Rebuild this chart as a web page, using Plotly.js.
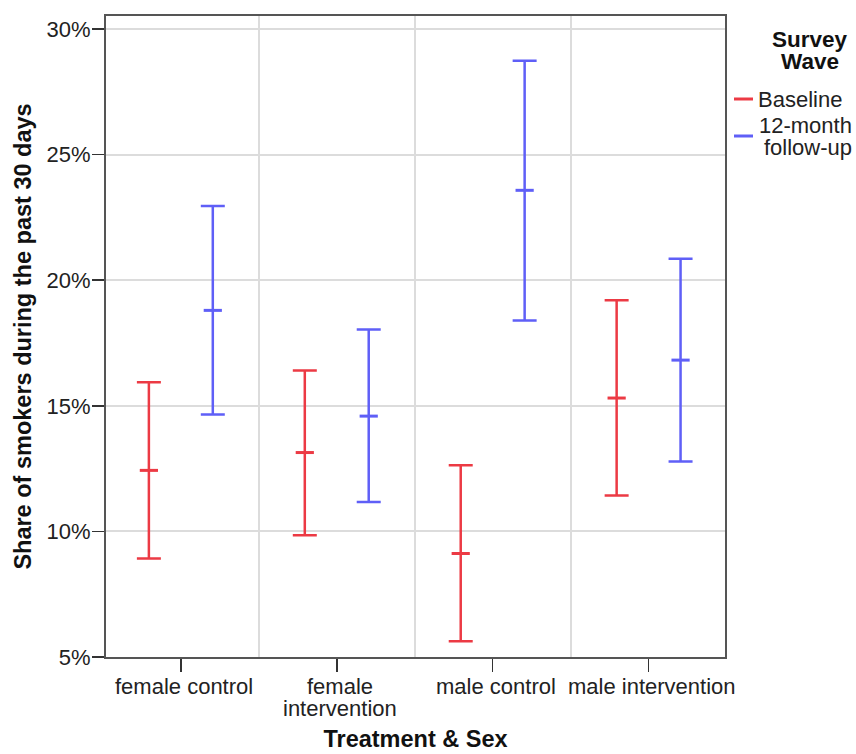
<!DOCTYPE html>
<html>
<head>
<meta charset="utf-8">
<script src="https://cdn.plot.ly/plotly-3.0.1.min.js"></script>
<style>html,body{margin:0;padding:0;background:#fff;}#chart{width:856px;height:754px;}</style>
</head>
<body>
<div id="chart"></div>
<script>
// Data (percent)
const categories = ["female control", "female\nintervention", "male control", "male intervention"];
const baselineMean = [12.43, 13.14, 9.12, 15.31];
const baselineLow  = [8.92, 9.85, 5.63, 11.43];
const baselineHigh = [15.94, 16.41, 12.63, 19.20];
const followMean = [18.80, 14.59, 23.58, 16.82];
const followLow  = [14.65, 11.17, 18.40, 12.78];
const followHigh = [22.96, 18.04, 28.74, 20.86];
const yTickVals = [5, 10, 15, 20, 25, 30];
const yTickText = ["5%", "10%", "15%", "20%", "25%", "30%"];

const RED = "#ec3a44";
const BLUE = "#5f5ff7";
const FONT = "Liberation Sans, Arial, sans-serif";
const TICK_SIZE = 22;
const TITLE_SIZE = 23.5;
const offset = 0.205;
const idx = categories.map((_, i) => i);

function trace(means, lows, highs, dx, color, name) {
  return {
    type: "scatter", mode: "markers", name: name, showlegend: false,
    x: idx.map(i => i + dx), y: means,
    marker: {symbol: "line-ew", size: 13, color: color, line: {color: color, width: 3}},
    error_y: {
      type: "data", symmetric: false,
      array: highs.map((h, i) => h - means[i]),
      arrayminus: means.map((m, i) => m - lows[i]),
      color: color, thickness: 2.5, width: 12
    },
    hoverinfo: "skip"
  };
}

const data = [
  trace(baselineMean, baselineLow, baselineHigh, -offset, RED, "Baseline"),
  trace(followMean, followLow, followHigh, offset, BLUE, "12-month follow-up")
];

// plot area in pixels (for legend / label placement in paper coords)
const L = 106, R = 725, T = 16, B = 657;
const px = x => (x - L) / (R - L);
const py = y => (B - y) / (B - T);

// category labels, drawn at the x-axis category positions (tight line spacing as in the reference)
const catAnnotations = [];
categories.forEach((c, i) => {
  c.split("\n").forEach((line, j) => {
    catAnnotations.push({
      xref: "x", yref: "paper", x: i, y: py(686 + j * 22), xshift: 3,
      xanchor: "center", yanchor: "middle", showarrow: false,
      text: line, font: {family: FONT, size: TICK_SIZE, color: "#222"}
    });
  });
});

const layout = {
  width: 856, height: 754,
  margin: {l: L, r: 856 - R, t: T, b: 754 - B},
  paper_bgcolor: "#fff", plot_bgcolor: "#fff",
  font: {family: FONT, size: TICK_SIZE, color: "#222"},
  showlegend: false,
  xaxis: {
    range: [-0.48, 3.49], tickmode: "array", tickvals: idx, showticklabels: false,
    ticks: "outside", ticklen: 13, tickwidth: 1.5, tickcolor: "#333",
    showline: true, linecolor: "#555", linewidth: 2, mirror: true,
    showgrid: false, zeroline: false,
    minor: {tickmode: "linear", tick0: 0.5, dtick: 1, showgrid: true, gridcolor: "#dcdcdc", gridwidth: 2, ticks: ""},
    title: {text: "Treatment & Sex", font: {family: FONT, size: TITLE_SIZE, color: "#111", weight: "bold"}, standoff: 60}
  },
  yaxis: {
    range: [5, 30.52], tickmode: "array", tickvals: yTickVals, ticktext: yTickText,
    ticks: "outside", ticklen: 12, tickwidth: 1.5, tickcolor: "#333",
    ticklabelstandoff: -3,
    showline: true, linecolor: "#555", linewidth: 2, mirror: true,
    showgrid: true, gridcolor: "#dcdcdc", gridwidth: 2, zeroline: false,
    tickfont: {family: FONT, size: TICK_SIZE, color: "#222"},
    title: {text: "Share of smokers during the past 30 days", font: {family: FONT, size: TITLE_SIZE, color: "#111", weight: "bold"}, standoff: 8}
  },
  shapes: [
    {type: "line", xref: "paper", yref: "paper", x0: px(734), x1: px(753), y0: py(99), y1: py(99), line: {color: RED, width: 3}},
    {type: "line", xref: "paper", yref: "paper", x0: px(734), x1: px(753), y0: py(136), y1: py(136), line: {color: BLUE, width: 3}}
  ],
  annotations: catAnnotations.concat([
    {xref: "paper", yref: "paper", x: px(810), y: py(40), xanchor: "center", yanchor: "middle", showarrow: false,
     text: "<b>Survey</b>", font: {family: FONT, size: 22.5, color: "#111"}},
    {xref: "paper", yref: "paper", x: px(810), y: py(62), xanchor: "center", yanchor: "middle", showarrow: false,
     text: "<b>Wave</b>", font: {family: FONT, size: 22.5, color: "#111"}},
    {xref: "paper", yref: "paper", x: px(756), y: py(100), xanchor: "left", yanchor: "middle", showarrow: false,
     text: "Baseline", font: {family: FONT, size: TICK_SIZE, color: "#222"}},
    {xref: "paper", yref: "paper", x: px(805), y: py(126), xanchor: "center", yanchor: "middle", showarrow: false,
     text: "12-month", font: {family: FONT, size: TICK_SIZE, color: "#222"}},
    {xref: "paper", yref: "paper", x: px(808), y: py(147), xanchor: "center", yanchor: "middle", showarrow: false,
     text: "follow-up", font: {family: FONT, size: TICK_SIZE, color: "#222"}}
  ])
};

Plotly.newPlot("chart", data, layout, {displayModeBar: false, staticPlot: true});
</script>
</body>
</html>
